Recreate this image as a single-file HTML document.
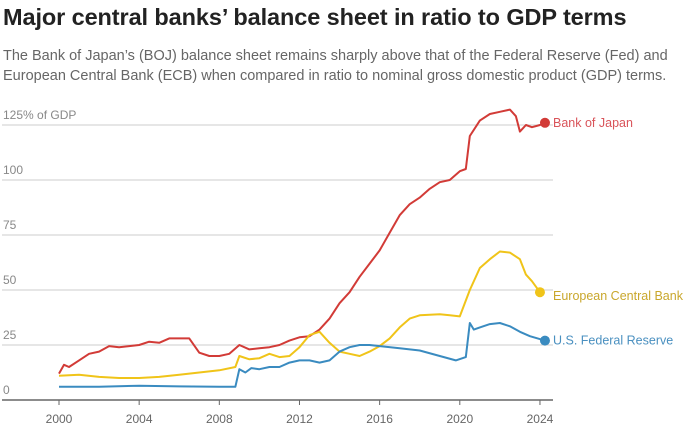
<!DOCTYPE html>
<html><head><meta charset="utf-8"><style>
body{margin:0;width:694px;height:435px;background:#fff;font-family:"Liberation Sans",sans-serif;overflow:hidden;position:relative}
h1{position:absolute;left:3px;top:4px;margin:0;font-size:23.5px;font-weight:bold;color:#222;letter-spacing:-0.1px}
p{position:absolute;left:3px;top:46px;margin:0;font-size:14.5px;line-height:20px;color:#666;width:672px}
svg{position:absolute;left:0;top:0}
</style></head><body>
<h1>Major central banks’ balance sheet in ratio to GDP terms</h1>
<p>The Bank of Japan’s (BOJ) balance sheet remains sharply above that of the Federal Reserve (Fed) and European Central Bank (ECB) when compared in ratio to nominal gross domestic product (GDP) terms.</p>
<svg id="c" width="694" height="435"></svg>
<script>
const yTicks=[0,25,50,75,100,125];
const yTickLabels=["0","25","50","75","100","125% of GDP"];
const xTicks=[2000,2004,2008,2012,2016,2020,2024];
const bojYears=[2000,2000.25,2000.5,2001,2001.5,2002,2002.5,2003,2003.5,2004,2004.5,2005,2005.5,2006,2006.5,2007,2007.5,2008,2008.5,2009,2009.5,2010,2010.5,2011,2011.5,2012,2012.5,2013,2013.5,2014,2014.5,2015,2015.5,2016,2016.5,2017,2017.5,2018,2018.5,2019,2019.5,2020,2020.3,2020.5,2021,2021.5,2022,2022.5,2022.8,2023,2023.3,2023.6,2024,2024.25];
const bojValues=[12,16,15,18,21,22,24.5,24,24.5,25,26.5,26,28,28,28,21.5,20,20,21,25,23,23.5,24,25,27,28.5,29,32,37,44,49,56,62,68,76,84,89,92,96,99,100,104,105,120,127,130,131,132,129,122,125,124,125,126];
const ecbYears=[2000,2001,2002,2003,2004,2005,2006,2007,2008,2008.8,2009,2009.5,2010,2010.5,2011,2011.5,2012,2012.5,2013,2013.5,2014,2014.5,2015,2015.5,2016,2016.5,2017,2017.5,2018,2019,2019.5,2020,2020.5,2021,2021.5,2022,2022.5,2023,2023.3,2023.6,2024];
const ecbValues=[11,11.5,10.5,10,10,10.5,11.5,12.5,13.5,15,20,18.5,19,21,19.5,20,24,29.5,31,26,22,21,20,22,24.5,28,33,37,38.5,39,38.5,38,50,60,64,67.5,67,64,57,54,49];
const fedYears=[2000,2002,2004,2006,2008,2008.8,2009,2009.3,2009.6,2010,2010.5,2011,2011.5,2012,2012.5,2013,2013.5,2014,2014.5,2015,2015.5,2016,2017,2018,2019,2019.8,2020.3,2020.5,2020.7,2021,2021.5,2022,2022.5,2023,2023.5,2024.25];
const fedValues=[6,6,6.5,6.2,6,6,14,12.5,14.5,14,15,15,17,18,18,17,18,22,24,25,25,24.5,23.5,22.5,20,18,19.5,35,32,33,34.5,35,33.5,31,29,27];
const X=y=>59+(y-2000)*20.04, Y=v=>400-v*2.2;
const svg=document.getElementById('c'),NS='http://www.w3.org/2000/svg';
function mk(t,a,txt){const e=document.createElementNS(NS,t);for(const k in a)e.setAttribute(k,a[k]);if(txt!==undefined)e.textContent=txt;svg.appendChild(e);return e;}
yTicks.forEach((t,i)=>{
 const g=mk('line',{x1:2,x2:553,y1:Y(t),y2:Y(t),stroke:t===0?'#666':'#d6d6d6','stroke-width':t===0?1.5:1.3});
 
 
 const l=mk('text',{x:3,y:Y(t)-6,'font-size':12,fill:'#888'},yTickLabels[i]);
 
 
});
xTicks.forEach(t=>{
 const k=mk('line',{x1:X(t),x2:X(t),y1:400,y2:405,stroke:'#666','stroke-width':1});
 
 
 const l=mk('text',{x:X(t),y:423,'font-size':12,fill:'#666','text-anchor':'middle'},String(t));
 
 
});
const series=[[bojYears,bojValues,'#d23b37','Bank of Japan','boj',0],[ecbYears,ecbValues,'#f0c419','European Central Bank','ecb',4],[fedYears,fedValues,'#3a8bc0','U.S. Federal Reserve','fed',0]];
const lblCol={boj:'#d9545a',ecb:'#c9a72c',fed:'#4a90c0'};
series.forEach(([xs,vs,c,name,id,dy])=>{
 const p=mk('polyline',{points:xs.map((x,i)=>X(x)+','+Y(vs[i])).join(' '),fill:'none',stroke:c,'stroke-width':2,'stroke-linejoin':'round'});
 
 
 const n=xs.length-1;
 const d=mk('circle',{cx:X(xs[n]),cy:Y(vs[n]),r:5,fill:c});
 
 
 const t=mk('text',{x:553,y:Y(vs[n])+dy+4,'font-size':12.5,fill:lblCol[id]},name);
 
 
});
</script>
</body></html>
